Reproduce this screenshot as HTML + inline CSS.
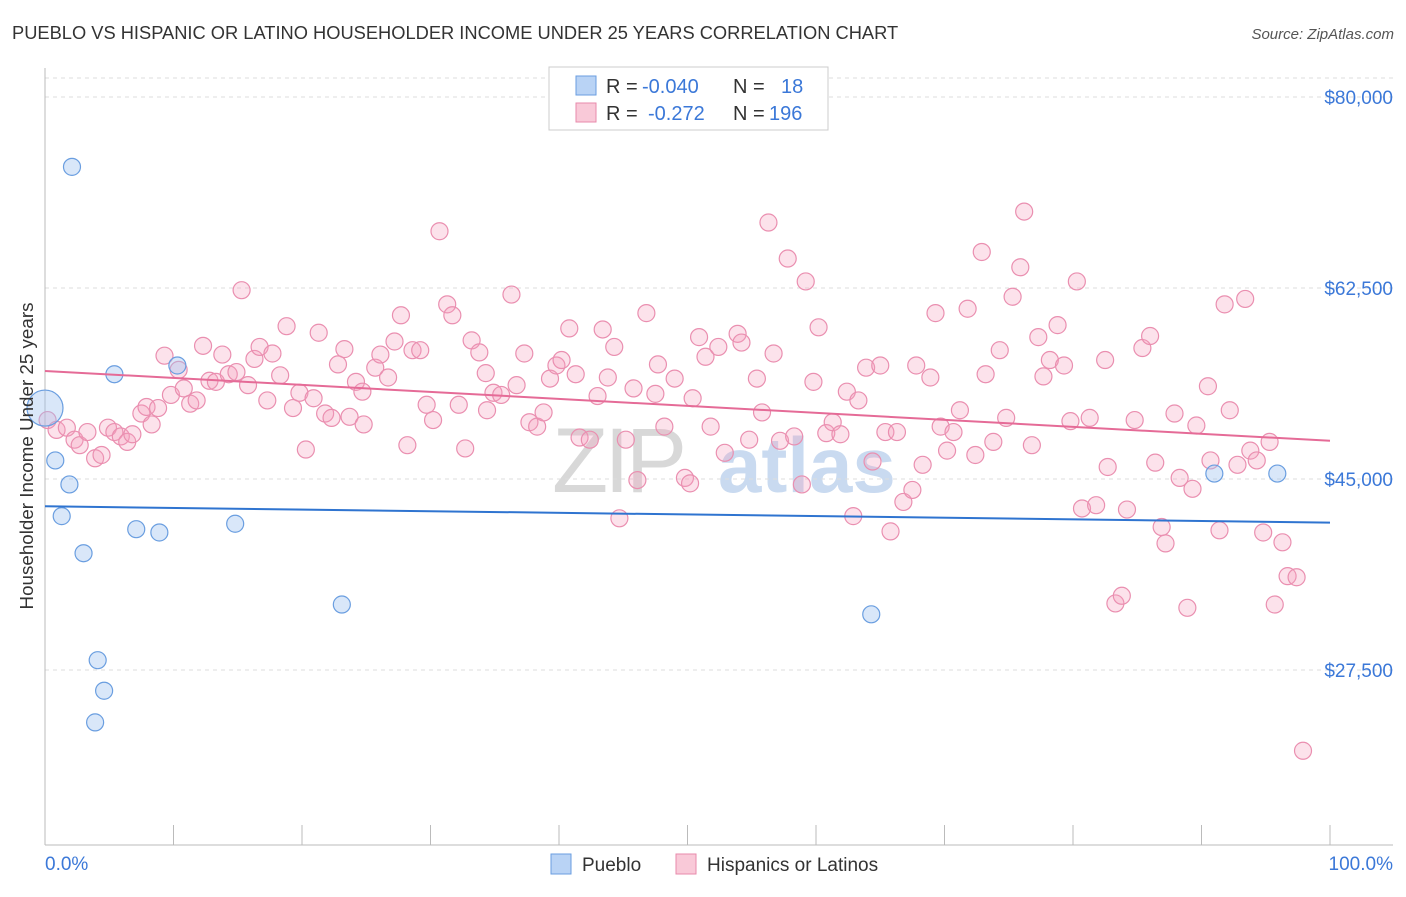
<!DOCTYPE html>
<html><head><meta charset="utf-8"><style>
body{margin:0;background:#fff;font-family:"Liberation Sans",sans-serif;}
svg text{font-family:"Liberation Sans",sans-serif;}
</style></head><body>
<svg id="chart" width="1406" height="892" viewBox="0 0 1406 892" xmlns="http://www.w3.org/2000/svg">
<text x="12" y="39" font-size="18.3" fill="#333">PUEBLO VS HISPANIC OR LATINO HOUSEHOLDER INCOME UNDER 25 YEARS CORRELATION CHART</text>
<text x="1394" y="39" font-size="15" fill="#555" text-anchor="end" font-style="italic">Source: ZipAtlas.com</text>
<g>
<text x="552" y="492" font-size="92" fill="#d8d8d8" font-family="Liberation Serif" letter-spacing="-4">ZIP</text>
<text x="718" y="492" font-size="78" fill="#c9daf0" font-weight="bold">atlas</text>
</g>
<g id="grid"></g>
<g id="axes"></g>
<g id="pink"></g>
<g id="blue"></g>
<g id="trends"></g>
<text transform="translate(33,456) rotate(-90)" font-size="18.8" fill="#333" text-anchor="middle">Householder Income Under 25 years</text>
<text x="45" y="870" font-size="19" fill="#3b78d8">0.0%</text>
<text x="1393" y="870" font-size="19" fill="#3b78d8" text-anchor="end">100.0%</text>
<g>
<rect x="549" y="67" width="279" height="63" fill="#fff" stroke="#ccc"/>
<rect x="576" y="76" width="20" height="19" fill="#b9d3f5" stroke="#6a9ee0"/>
<text x="606" y="93" font-size="20" fill="#333">R =</text>
<text x="642" y="93" font-size="20" fill="#3b78d8">-0.040</text>
<text x="733" y="93" font-size="20" fill="#333">N =</text>
<text x="781" y="93" font-size="20" fill="#3b78d8">18</text>
<rect x="576" y="103" width="20" height="19" fill="#f9c9d8" stroke="#e88aab"/>
<text x="606" y="120" font-size="20" fill="#333">R =</text>
<text x="648" y="120" font-size="20" fill="#3b78d8">-0.272</text>
<text x="733" y="120" font-size="20" fill="#333">N =</text>
<text x="769" y="120" font-size="20" fill="#3b78d8">196</text>
</g>
<g>
<rect x="551" y="854" width="20" height="20" fill="#b9d3f5" stroke="#6a9ee0"/>
<text x="582" y="871" font-size="19" fill="#333">Pueblo</text>
<rect x="676" y="854" width="20" height="20" fill="#f9c9d8" stroke="#e88aab"/>
<text x="707" y="871" font-size="19" fill="#333">Hispanics or Latinos</text>
</g>
</svg>
<script>
const yTicks=[80000,62500,45000,27500];
const yTickLabels=["$80,000","$62,500","$45,000","$27,500"];
const xTicks=[0,10,20,30,40,50,60,70,80,90,100];
const puebloX=[0,2.1,0.8,1.9,1.3,3.0,5.4,7.1,8.9,10.3,14.8,23.1,4.1,4.6,3.9,64.3,91.0,95.9];
const puebloY=[51.5,73.6,46.7,44.5,41.6,38.2,54.6,40.4,40.1,55.4,40.9,33.5,28.4,25.6,22.7,32.6,45.5,45.5];
const puebloSize=[1,0,0,0,0,0,0,0,0,0,0,0,0,0,0,0,0,0];
const hispX=[0.2,0.9,1.7,2.3,2.7,3.3,3.9,4.4,4.9,5.4,5.9,6.4,6.8,7.5,7.9,8.3,8.8,9.3,9.8,10.4,10.8,11.3,11.8,12.3,12.8,13.3,13.8,14.3,14.9,15.3,15.8,16.3,16.7,17.3,17.7,18.3,18.8,19.3,19.8,20.3,20.9,21.3,21.8,22.3,22.8,23.3,23.7,24.2,24.7,24.8,25.7,26.1,26.7,27.2,27.7,28.2,28.6,29.2,29.7,30.2,30.7,31.3,31.7,32.2,32.7,33.2,33.8,34.3,34.4,34.9,35.5,36.3,36.7,37.3,37.7,38.3,38.8,39.3,39.8,40.2,40.8,41.3,41.6,42.4,43.0,43.4,43.8,44.3,44.7,45.2,45.8,46.1,46.8,47.5,47.7,48.2,49.0,49.8,50.2,50.4,50.9,51.4,51.8,52.4,52.9,53.9,54.2,54.8,55.4,55.8,56.3,56.7,57.2,57.8,58.3,58.9,59.2,59.8,60.2,60.8,61.3,61.9,62.4,62.9,63.3,63.9,64.4,65.0,65.4,65.8,66.3,66.8,67.5,67.8,68.3,68.9,69.3,69.7,70.2,70.7,71.2,71.8,72.4,72.9,73.2,73.8,74.3,74.8,75.3,75.9,76.2,76.8,77.3,77.7,78.2,78.8,79.3,79.8,80.3,80.7,81.3,81.8,82.5,82.7,83.3,83.8,84.2,84.8,85.4,86.0,86.4,86.9,87.2,87.9,88.3,88.9,89.3,89.6,90.5,90.7,91.4,91.8,92.2,92.8,93.4,93.8,94.3,94.8,95.3,95.7,96.3,96.7,97.4,97.9];
const hispY=[50.4,49.5,49.7,48.6,48.1,49.3,46.9,47.2,49.7,49.3,48.9,48.4,49.1,51.0,51.6,50.0,51.5,56.3,52.7,55.0,53.3,51.9,52.2,57.2,54.0,53.9,56.4,54.6,54.8,62.3,53.6,56.0,57.1,52.2,56.5,54.5,59.0,51.5,52.9,47.7,52.4,58.4,51.0,50.6,55.5,56.9,50.7,53.9,53.0,50.0,55.2,56.4,54.3,57.6,60.0,48.1,56.8,56.8,51.8,50.4,67.7,61.0,60.0,51.8,47.8,57.7,56.6,54.7,51.3,52.9,52.7,61.9,53.6,56.5,50.2,49.8,51.1,54.2,55.4,55.9,58.8,54.6,48.8,48.6,52.6,58.7,54.3,57.1,41.4,48.6,53.3,44.9,60.2,52.8,55.5,49.8,54.2,45.1,44.6,52.4,58.0,56.2,49.8,57.1,47.4,58.3,57.5,48.6,54.2,51.1,68.5,56.5,48.5,65.2,48.9,44.5,63.1,53.9,58.9,49.2,50.2,49.1,53.0,41.6,52.2,55.2,46.6,55.4,49.3,40.2,49.3,42.9,44.0,55.4,46.3,54.3,60.2,49.8,47.6,49.3,51.3,60.6,47.2,65.8,54.6,48.4,56.8,50.6,61.7,64.4,69.5,48.1,58.0,54.4,55.9,59.1,55.4,50.3,63.1,42.3,50.6,42.6,55.9,46.1,33.6,34.3,42.2,50.4,57.0,58.1,46.5,40.6,39.1,51.0,45.1,33.2,44.1,49.9,53.5,46.7,40.3,61.0,51.3,46.3,61.5,47.6,46.7,40.1,48.4,33.5,39.2,36.1,36.0,20.1];
const trendX=[0,100];
const puebloTrendY=[42.5,41.0];
const hispTrendY=[54.9,48.5];

const NS="http://www.w3.org/2000/svg";
const X0=45,X1=1330,YT=97,YB=670;
function xs(v){return X0+(v/100)*(X1-X0);}
function ys(v){return YT+(80000-v)/(80000-27500)*(YB-YT);}
function mk(tag,attrs,parent){const e=document.createElementNS(NS,tag);for(const k in attrs)e.setAttribute(k,attrs[k]);parent.appendChild(e);return e;}
const grid=document.getElementById('grid'),axes=document.getElementById('axes');
let l=mk('line',{x1:45,x2:1393,y1:78,y2:78,stroke:'#ddd','stroke-dasharray':'4,4'},grid);


yTicks.forEach((t,i)=>{
  const g=mk('line',{x1:45,x2:1393,y1:ys(t),y2:ys(t),stroke:'#ddd','stroke-dasharray':'4,4'},grid);
  
  
  const tx=mk('text',{x:1393,y:ys(t)+7,'font-size':19,fill:'#3b78d8','text-anchor':'end'},grid);
  tx.textContent=yTickLabels[i];
  
  
});
let ax=mk('line',{x1:45,x2:45,y1:68,y2:845,stroke:'#bbb'},axes);


let bx=mk('line',{x1:45,x2:1393,y1:845,y2:845,stroke:'#bbb'},axes);


xTicks.forEach(t=>{
  const tk=mk('line',{x1:xs(t),x2:xs(t),y1:825,y2:845,stroke:'#bbb'},axes);
  
  
});
const pink=document.getElementById('pink');
hispX.forEach((x,i)=>{
  const c=mk('circle',{cx:xs(x),cy:ys(hispY[i]*1000),r:8.5,fill:'rgba(245,160,190,0.3)',stroke:'#ea8fb0','stroke-width':1.2},pink);
  
  
});
const blue=document.getElementById('blue');
puebloX.forEach((x,i)=>{
  const c=mk('circle',{cx:xs(x),cy:ys(puebloY[i]*1000),r:puebloSize[i]?18:8.5,fill:'rgba(160,195,240,0.4)',stroke:'#6a9ee0','stroke-width':1.2},blue);
  
  
});
const tr=document.getElementById('trends');
let bt=mk('line',{x1:xs(trendX[0]),x2:xs(trendX[1]),y1:ys(puebloTrendY[0]*1000),y2:ys(puebloTrendY[1]*1000),stroke:'#2f74d0','stroke-width':2},tr);


let pt=mk('line',{x1:xs(trendX[0]),x2:xs(trendX[1]),y1:ys(hispTrendY[0]*1000),y2:ys(hispTrendY[1]*1000),stroke:'#e56b97','stroke-width':2},tr);


</script>
</body></html>
